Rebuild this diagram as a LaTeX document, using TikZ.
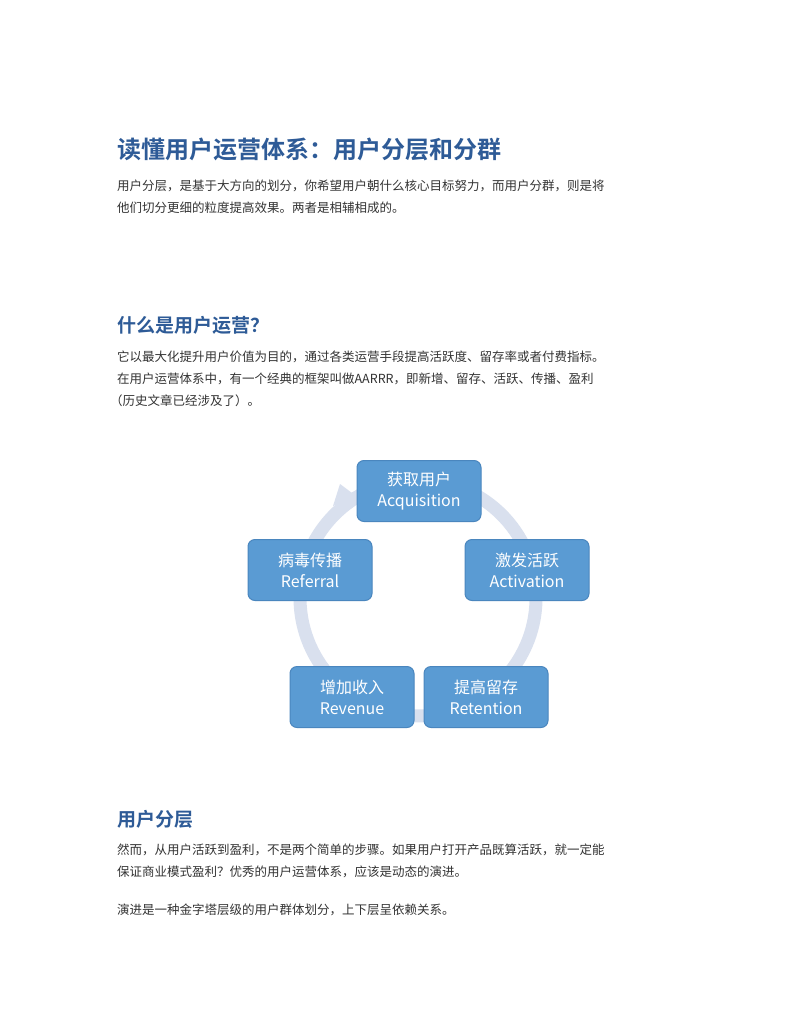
\documentclass[tikz,border=0pt]{standalone}
\usepackage{fontspec}
\setmainfont{Noto Sans CJK SC}
\newfontfamily\cjk{Noto Sans CJK SC}
\newfontfamily\cjkb{Noto Sans CJK SC Bold}
\usetikzlibrary{arrows.meta}
\definecolor{ttl}{HTML}{2E5B97}
\definecolor{bx}{HTML}{5A9BD3}
\definecolor{bxd}{HTML}{4A86BE}
\definecolor{ring}{HTML}{D9E0EE}
\definecolor{txt}{HTML}{333333}
\begin{document}
\begin{tikzpicture}[x=1pt,y=-1pt,
  h1/.style={anchor=west,inner sep=0,text=ttl,font=\cjkb\fontsize{24}{28}\selectfont},
  h2/.style={anchor=west,inner sep=0,text=ttl,font=\cjkb\fontsize{19}{22}\selectfont},
  para/.style={anchor=west,inner sep=0,text=txt,font=\cjk\fontsize{12.5}{15}\selectfont},
  card/.style={draw=bxd,line width=1pt,fill=bx,rounded corners=7pt,minimum width=124pt,minimum height=61pt,align=center,text=white,font=\cjk\fontsize{16}{21}\selectfont}]
\useasboundingbox (0,0) rectangle (791,1024);
\fill[white] (0,0) rectangle (791,1024);
\node[h1] (t1) at (117,149) {读懂用户运营体系：用户分层和分群};
\node[para] (p1) at (117,186) {用户分层，是基于大方向的划分，你希望用户朝什么核心目标努力，而用户分群，则是将};
\node[para] (p2) at (117,208) {他们切分更细的粒度提高效果。两者是相辅相成的。};
\node[h2] (t2) at (117,325) {什么是用户运营？};
\node[para] (p3) at (117,357) {它以最大化提升用户价值为目的，通过各类运营手段提高活跃度、留存率或者付费指标。};
\node[para] (p4) at (117,379) {在用户运营体系中，有一个经典的框架叫做AARRR，即新增、留存、活跃、传播、盈利};
\node[para] (p5) at (110,401) {（历史文章已经涉及了）。};
% ring
\draw[ring,line width=13pt] (418,598) ++(128:118) arc[start angle=128,end angle=-232,radius=118];
\fill[ring] (340,484) -- (356,496) -- (333,506) -- cycle;
\node[card] (acq) at (419,491) {获取用户\\Acquisition};
\node[card] (act) at (527,570) {激发活跃\\Activation};
\node[card] (ref) at (310,570) {病毒传播\\Referral};
\node[card] (rev) at (352,697) {增加收入\\Revenue};
\node[card] (ret) at (486,697) {提高留存\\Retention};
\node[h2] (t3) at (117,819) {用户分层};
\node[para] (p6) at (117,850) {然而，从用户活跃到盈利，不是两个简单的步骤。如果用户打开产品既算活跃，就一定能};
\node[para] (p7) at (117,872) {保证商业模式盈利？优秀的用户运营体系，应该是动态的演进。};
\node[para] (p8) at (117,910) {演进是一种金字塔层级的用户群体划分，上下层呈依赖关系。};
\end{tikzpicture}
\end{document}
